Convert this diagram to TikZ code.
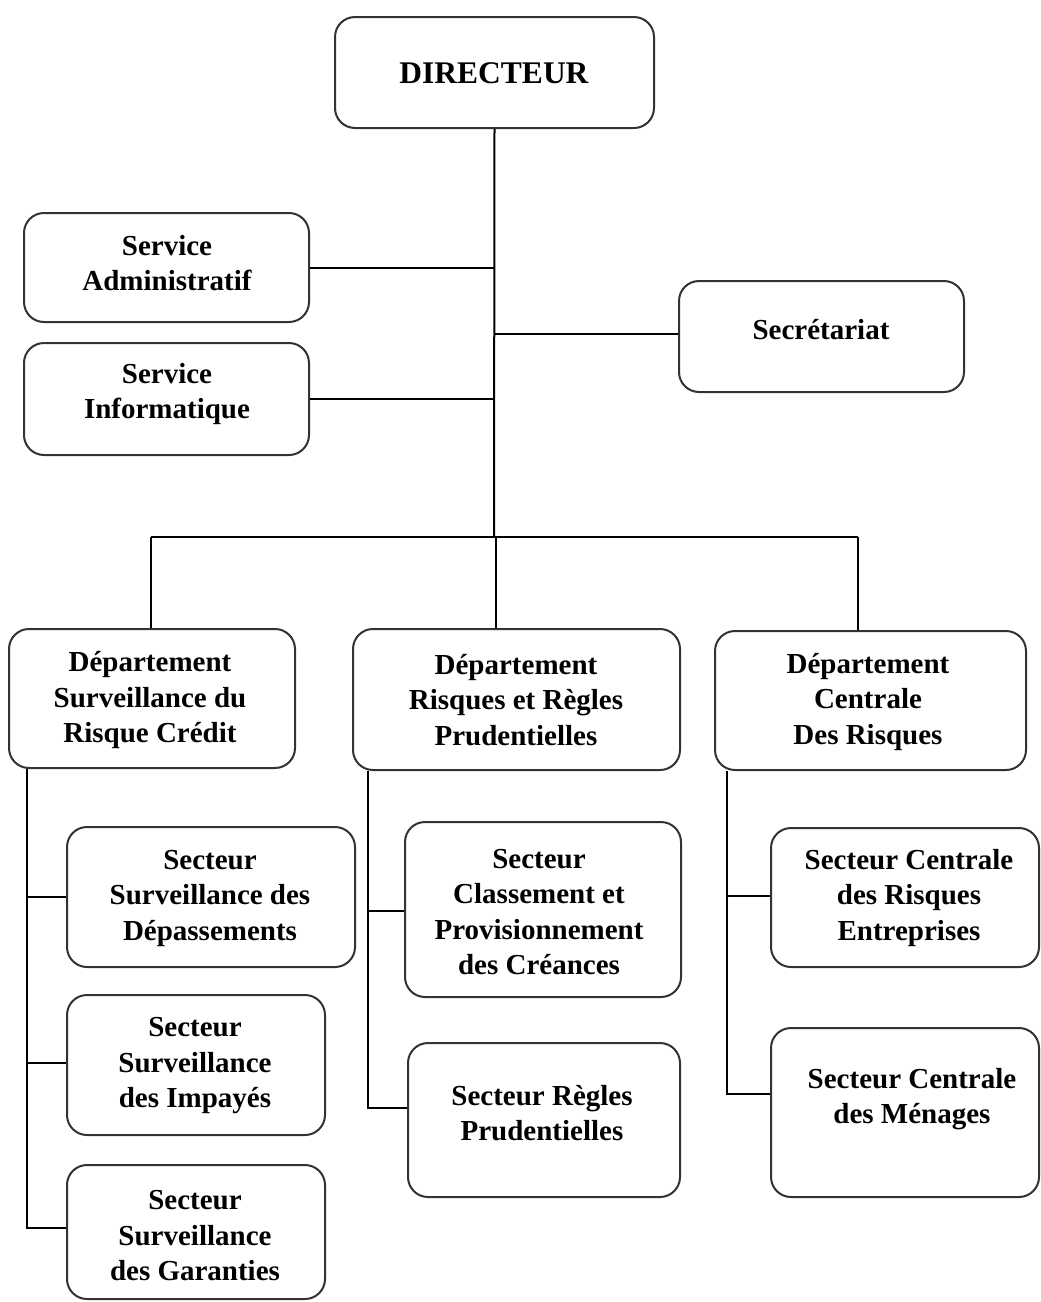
\documentclass[tikz,border=0pt]{standalone}
\usepackage{fontspec}
\setmainfont{Liberation Serif}
\begin{document}
\begin{tikzpicture}[x=1pt,y=-1pt,
  box/.style={draw=black!80, line width=2pt, rounded corners=20pt, fill=white, inner sep=0pt},
  lbl/.style={font=\bfseries\fontsize{29}{35.5}\selectfont, align=center, inner sep=0pt},
  link/.style={draw=black, line width=2pt}]
\useasboundingbox (0,0) rectangle (1041,1302);
\fill[white] (0,0) rectangle (1041,1302);

% boxes
\node[box, minimum width=319pt, minimum height=111pt] (dir)  at (494.5,72.5) {};
\node[box, minimum width=285pt, minimum height=109pt] (sadm) at (166.5,267.5) {};
\node[box, minimum width=285pt, minimum height=112pt] (sinf) at (166.5,399) {};
\node[box, minimum width=285pt, minimum height=111pt] (sec)  at (821.5,336.5) {};
\node[box, minimum width=286pt, minimum height=139pt] (d1)   at (152,698.5) {};
\node[box, minimum width=327pt, minimum height=141pt] (d2)   at (516.5,699.5) {};
\node[box, minimum width=311pt, minimum height=139pt] (d3)   at (870.5,700.5) {};
\node[box, minimum width=288pt, minimum height=140pt] (ss1)  at (211,897) {};
\node[box, minimum width=258pt, minimum height=140pt] (ss2)  at (196,1065) {};
\node[box, minimum width=258pt, minimum height=134pt] (ss3)  at (196,1232) {};
\node[box, minimum width=276pt, minimum height=175pt] (ss4)  at (543,909.5) {};
\node[box, minimum width=272pt, minimum height=154pt] (ss5)  at (544,1120) {};
\node[box, minimum width=268pt, minimum height=139pt] (ss6)  at (905,897.5) {};
\node[box, minimum width=268pt, minimum height=169pt] (ss7)  at (905,1112.5) {};

% connectors
\coordinate (jb) at (494,537);
\draw[link] (dir.south) -- (jb);
\draw[link] (sadm.east) -- (sadm.east -| dir.south);
\draw[link] (sinf.east) -- (sinf.east -| dir.south);
\coordinate (ksec) at (494,334);
\draw[link] (ksec) -- (ksec -| sec.west);

\coordinate (bl) at (151,537);
\coordinate (bm) at (496,537);
\coordinate (br) at (858,537);
\draw[link] (bl) -- (br);
\draw[link] (bl) -- (bl |- d1.north);
\draw[link] (bm) -- (bm |- d2.north);
\draw[link] (br) -- (br |- d3.north);

\coordinate (k1) at (27,897);
\coordinate (k2) at (27,1063);
\coordinate (k3) at (27,1228);
\draw[link] (k1 |- d1.south) -- (k3) -- (k3 -| ss3.west);
\draw[link] (k1) -- (k1 -| ss1.west);
\draw[link] (k2) -- (k2 -| ss2.west);

\coordinate (k4) at (368,911);
\coordinate (k5) at (368,1108);
\draw[link] (k4 |- d2.south) -- (k5) -- (k5 -| ss5.west);
\draw[link] (k4) -- (k4 -| ss4.west);

\coordinate (k6) at (727,896);
\coordinate (k7) at (727,1094);
\draw[link] (k6 |- d3.south) -- (k7) -- (k7 -| ss7.west);
\draw[link] (k6) -- (k6 -| ss6.west);

% texts
\node[lbl, font=\bfseries\fontsize{31.5}{36}\selectfont] (t-dir)  at (494,73) {DIRECTEUR};
\node[lbl] (t-sadm) at (167,263) {Service\\Administratif};
\node[lbl] (t-sinf) at (167,394) {Service\\Informatique};
\node[lbl] (t-sec)  at (821,330) {Secrétariat};
\node[lbl] (t-d1)   at (150,700) {Département\\Surveillance du\\Risque Crédit};
\node[lbl] (t-d2)   at (516,700) {Département\\Risques et Règles\\Prudentielles};
\node[lbl] (t-d3)   at (868,702) {Département\\Centrale\\Des Risques};
\node[lbl] (t-ss1)  at (210,898) {Secteur\\Surveillance des\\Dépassements};
\node[lbl] (t-ss2)  at (195,1066) {Secteur\\Surveillance\\des Impayés};
\node[lbl] (t-ss3)  at (195,1236) {Secteur\\Surveillance\\des Garanties};
\node[lbl] (t-ss4)  at (539,912) {Secteur\\Classement et\\Provisionnement\\des Créances};
\node[lbl] (t-ss5)  at (542,1113) {Secteur Règles\\Prudentielles};
\node[lbl] (t-ss6)  at (909,898) {Secteur Centrale\\des Risques\\Entreprises};
\node[lbl] (t-ss7)  at (912,1099) {Secteur Centrale\\des Ménages};
\end{tikzpicture}
\end{document}
